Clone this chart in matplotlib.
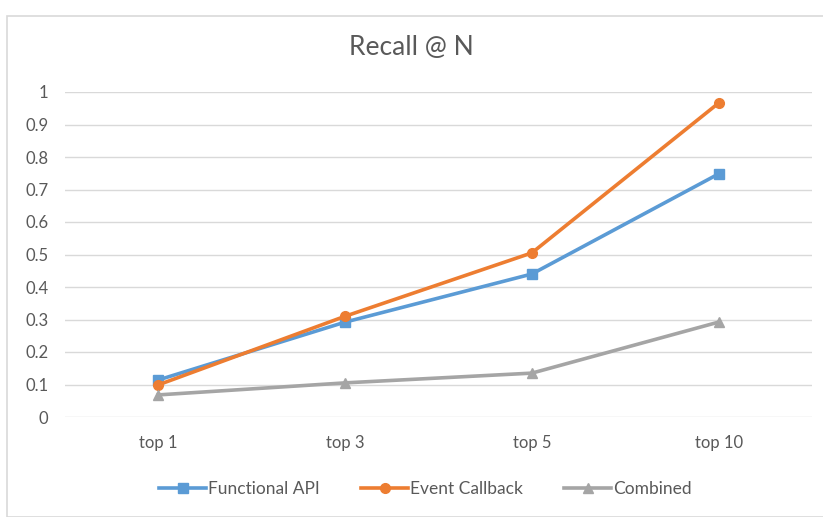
import matplotlib.pyplot as plt
from matplotlib.patches import Rectangle

categories = ["top 1", "top 3", "top 5", "top 10"]
functional_api = [0.114, 0.292, 0.44, 0.748]
event_callback = [0.099, 0.31, 0.505, 0.966]
combined = [0.068, 0.105, 0.135, 0.292]
yticks = [0, 0.1, 0.2, 0.3, 0.4, 0.5, 0.6, 0.7, 0.8, 0.9, 1]
ytick_labels = ["0", "0.1", "0.2", "0.3", "0.4", "0.5", "0.6", "0.7", "0.8", "0.9", "1"]

plt.rcParams['font.family'] = ['Lato', 'DejaVu Sans']
text_color = "#595959"

fig = plt.figure(figsize=(8.23, 5.17), dpi=100)
ax = fig.add_axes([65 / 823, 100 / 517, 747 / 823, 325 / 517])

x = list(range(len(categories)))
ax.plot(x, functional_api, color="#5B9BD5", lw=2.6, marker="s", ms=7, label="Functional API")
ax.plot(x, event_callback, color="#ED7D31", lw=2.6, marker="o", ms=7, label="Event Callback")
ax.plot(x, combined, color="#A5A5A5", lw=2.6, marker="^", ms=7, label="Combined")

ax.set_xlim(-0.5, len(categories) - 0.5)
ax.set_ylim(0, 1)
ax.set_yticks(yticks)
ax.set_yticklabels(ytick_labels)
ax.set_xticks(x)
ax.set_xticklabels(categories)
ax.grid(axis="y", color="#D9D9D9", lw=1)
ax.set_axisbelow(True)
for s in ax.spines.values():
    s.set_visible(False)
ax.tick_params(length=0, colors=text_color, labelsize=12)
ax.tick_params(axis="x", pad=13)
ax.tick_params(axis="y", pad=12)

fig.text(0.5, 1 - 48 / 517, "Recall @ N", ha="center", va="center", fontsize=19, color=text_color)

fig.legend(loc="center", bbox_to_anchor=(0.517, 1 - 489 / 517), ncol=3, frameon=False,
           fontsize=12.5, labelcolor=text_color, handlelength=2.7, handletextpad=0.1, columnspacing=2.4)

fig.patches.append(Rectangle((7 / 823, 0), 1, 1 - 16 / 517, transform=fig.transFigure,
                             fill=False, edgecolor="#D9D9D9", lw=1.2))

fig.savefig("out.png", dpi=100)
